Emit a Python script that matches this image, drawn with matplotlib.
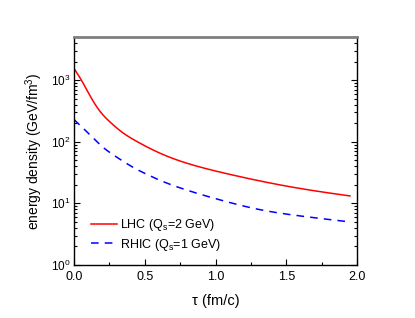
import matplotlib
matplotlib.use("Agg")
import matplotlib.pyplot as plt
import numpy as np
from matplotlib.ticker import LogLocator, MultipleLocator, NullFormatter, FormatStrFormatter

plt.rcParams['font.family'] = ['Liberation Sans', 'DejaVu Sans']
plt.rcParams['mathtext.fontset'] = 'custom'
plt.rcParams['mathtext.rm'] = 'Liberation Sans'
plt.rcParams['mathtext.it'] = 'Liberation Sans'

tau_lhc = [0.0, 0.057, 0.092, 0.127, 0.175, 0.221, 0.269, 0.339, 0.41, 0.48, 0.622, 0.82, 1.0, 1.17, 1.31, 1.6, 1.95]
e_lhc = [1549, 955, 684, 490, 331, 248, 195, 143, 112, 91, 63, 43.2, 33.5, 27.2, 23.2, 17.4, 13.2]
tau_rhic = [0.0, 0.08, 0.15, 0.221, 0.292, 0.363, 0.433, 0.516, 0.587, 0.77, 1.01, 1.31, 1.6, 1.95]
e_rhic = [229, 153, 106, 75.9, 58.2, 45.7, 36.7, 29.5, 24.8, 17.2, 11.75, 7.94, 6.24, 5.0]


def natural_spline(x, y, xn):
    x = np.asarray(x, float); y = np.asarray(y, float)
    n = len(x)
    h = np.diff(x)
    A = np.zeros((n, n)); b = np.zeros(n)
    A[0, 0] = 1; A[-1, -1] = 1
    for i in range(1, n - 1):
        A[i, i-1] = h[i-1]; A[i, i] = 2*(h[i-1] + h[i]); A[i, i+1] = h[i]
        b[i] = 3*((y[i+1]-y[i])/h[i] - (y[i]-y[i-1])/h[i-1])
    c = np.linalg.solve(A, b)
    bb = (y[1:]-y[:-1])/h - h*(2*c[:-1] + c[1:])/3
    d = (c[1:] - c[:-1])/(3*h)
    idx = np.clip(np.searchsorted(x, xn) - 1, 0, n - 2)
    dx = xn - x[idx]
    return y[idx] + bb[idx]*dx + c[idx]*dx**2 + d[idx]*dx**3


def smooth(t, e):
    tt = np.linspace(t[0], t[-1], 400)
    return tt, 10**natural_spline(t, np.log10(e), tt)


fig = plt.figure(figsize=(4.15, 3.18), dpi=100)
ax = fig.add_axes([74/415, 1-265/318, (357-74)/415, (265-37)/318])

ax.plot(*smooth(tau_lhc, e_lhc), color='#ff0000', lw=1.1, label='LHC (Q$_\\mathrm{s}$=2 GeV)')
ax.plot(*smooth(tau_rhic, e_rhic), color='#0000ff', lw=1.1, ls=(0, (5, 4)), label='RHIC (Q$_\\mathrm{s}$=1 GeV)')

ax.set_yscale('log')
ax.set_xlim(0, 2.0)
ax.set_ylim(1, 5000)
ax.xaxis.set_major_locator(MultipleLocator(0.5))
ax.xaxis.set_minor_locator(MultipleLocator(0.25))
ax.xaxis.set_major_formatter(FormatStrFormatter('%.1f'))
ax.yaxis.set_major_locator(LogLocator(base=10, numticks=10))
ax.yaxis.set_minor_locator(LogLocator(base=10, subs=np.arange(2, 10), numticks=20))
ax.yaxis.set_minor_formatter(NullFormatter())

ax.tick_params(which='both', direction='in', labelsize=9, right=True, top=False, width=0.8)
ax.tick_params(which='major', length=4)
ax.tick_params(which='minor', length=2.5)
ax.tick_params(axis='x', which='both', pad=4)
ax.tick_params(axis='y', which='both', pad=2.5, labelsize=8.5)

for s in ['left', 'bottom', 'right']:
    ax.spines[s].set_linewidth(1.0)
ax.spines['top'].set_color('#808080')
ax.spines['top'].set_linewidth(2.0)

ax.set_xlabel('τ (fm/c)', fontsize=10.5, labelpad=8)
ax.set_ylabel('energy density (GeV/fm$^3$)', fontsize=10, labelpad=4)

ax.legend(loc='lower left', bbox_to_anchor=(0.02, 0.005), frameon=False, fontsize=9,
          handlelength=2.1, handletextpad=0.25, labelspacing=0.25)

fig.savefig('out.png', dpi=100)
